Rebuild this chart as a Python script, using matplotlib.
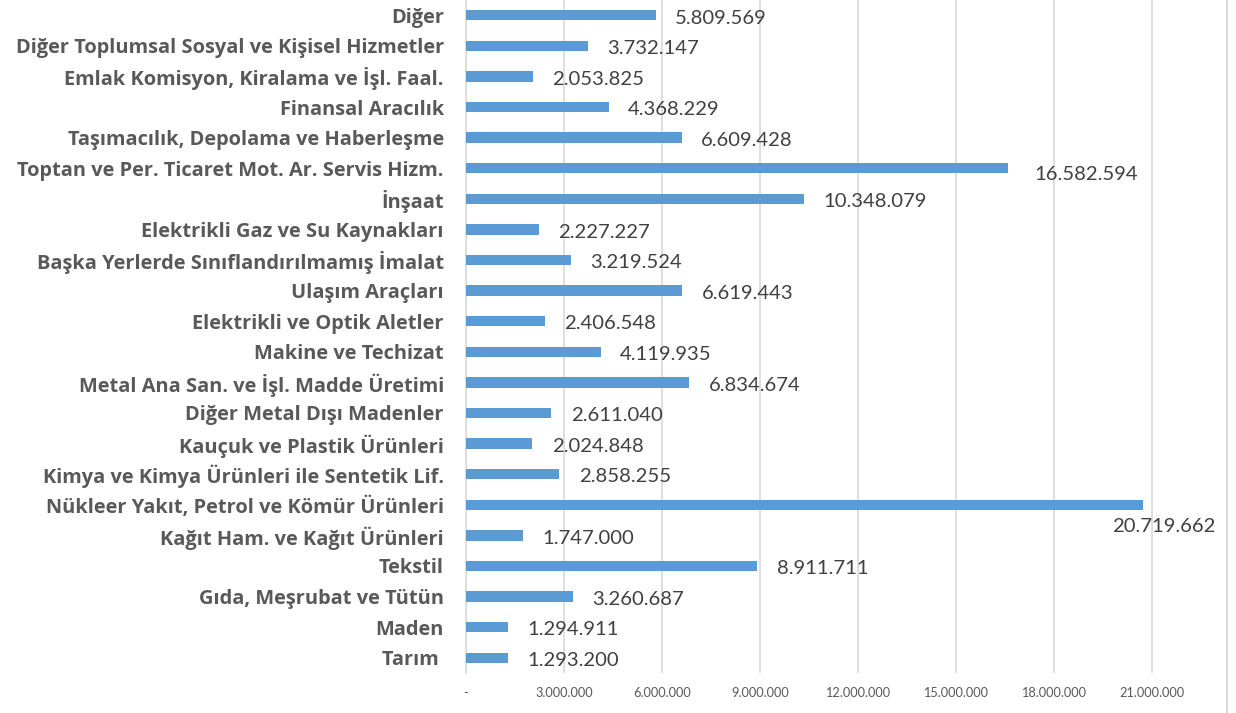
import matplotlib.pyplot as plt
from matplotlib.lines import Line2D

# sectors listed bottom to top
sectors = [
    "Tarım ", "Maden", "Gıda, Meşrubat ve Tütün", "Tekstil",
    "Kağıt Ham. ve Kağıt Ürünleri", "Nükleer Yakıt, Petrol ve Kömür Ürünleri",
    "Kimya ve Kimya Ürünleri ile Sentetik Lif.", "Kauçuk ve Plastik Ürünleri",
    "Diğer Metal Dışı Madenler", "Metal Ana San. ve İşl. Madde Üretimi",
    "Makine ve Techizat", "Elektrikli ve Optik Aletler", "Ulaşım Araçları",
    "Başka Yerlerde Sınıflandırılmamış İmalat", "Elektrikli Gaz ve Su Kaynakları",
    "İnşaat", "Toptan ve Per. Ticaret Mot. Ar. Servis Hizm.",
    "Taşımacılık, Depolama ve Haberleşme", "Finansal Aracılık",
    "Emlak Komisyon, Kiralama ve İşl. Faal.",
    "Diğer Toplumsal Sosyal ve Kişisel Hizmetler", "Diğer",
]
values = [
    1293200, 1294911, 3260687, 8911711, 1747000, 20719662, 2858255, 2024848,
    2611040, 6834674, 4119935, 2406548, 6619443, 3219524, 2227227, 10348079,
    16582594, 6609428, 4368229, 2053825, 3732147, 5809569,
]
x_ticks = [0, 3000000, 6000000, 9000000, 12000000, 15000000, 18000000, 21000000]


def tr_fmt(v):
    return f"{v:,}".replace(",", ".")


plt.rcParams["font.family"] = ["Lato", "DejaVu Sans"]

fig = plt.figure(figsize=(12.36, 7.13), dpi=100)
left, right_px = 466 / 1236, 1201 / 1236
ax = fig.add_axes([left, 40 / 713, right_px - left, 673 / 713])

ypos = list(range(len(sectors)))
ax.barh(ypos, values, height=0.34, color="#5B9BD5", zorder=3)

ax.set_xlim(0, 22500000)
ax.set_ylim(-0.5, 21.5)
ax.set_xticks(x_ticks)
ax.set_xticklabels(["-"] + [tr_fmt(t) for t in x_ticks[1:]])
ax.tick_params(axis="x", length=0, pad=10, labelsize=9.2, colors="#595959")
ax.set_yticks(ypos)
ax.set_yticklabels(sectors, fontsize=14.4, fontweight="bold", color="#595959",
                   family=["Open Sans", "DejaVu Sans"])
ax.tick_params(axis="y", length=0, pad=16)

for x in x_ticks[1:]:
    ax.axvline(x, color="#D9D9D9", lw=1.2, zorder=1)
for s in ["top", "right", "bottom"]:
    ax.spines[s].set_visible(False)
ax.spines["left"].set_color("#D9D9D9")
ax.spines["left"].set_linewidth(1.2)

# value labels, the two longest bars get pushed down
for y, v in zip(ypos, values):
    if v > 20000000:
        off = (15, -16)
        ha = "center"
    elif v > 15000000:
        off = (19, -4.5)
        ha = "left"
    else:
        off = (14, -2)
        ha = "left"
    ax.annotate(tr_fmt(v), (v, y), xytext=off, textcoords="offset points",
                ha=ha, va="center", fontsize=14.6, color="#404040")

# outer frame line on the right
fig.add_artist(Line2D([1227 / 1236] * 2, [0, 1], transform=fig.transFigure,
                      color="#D9D9D9", lw=1.5))

fig.savefig("out.png", dpi=100)
